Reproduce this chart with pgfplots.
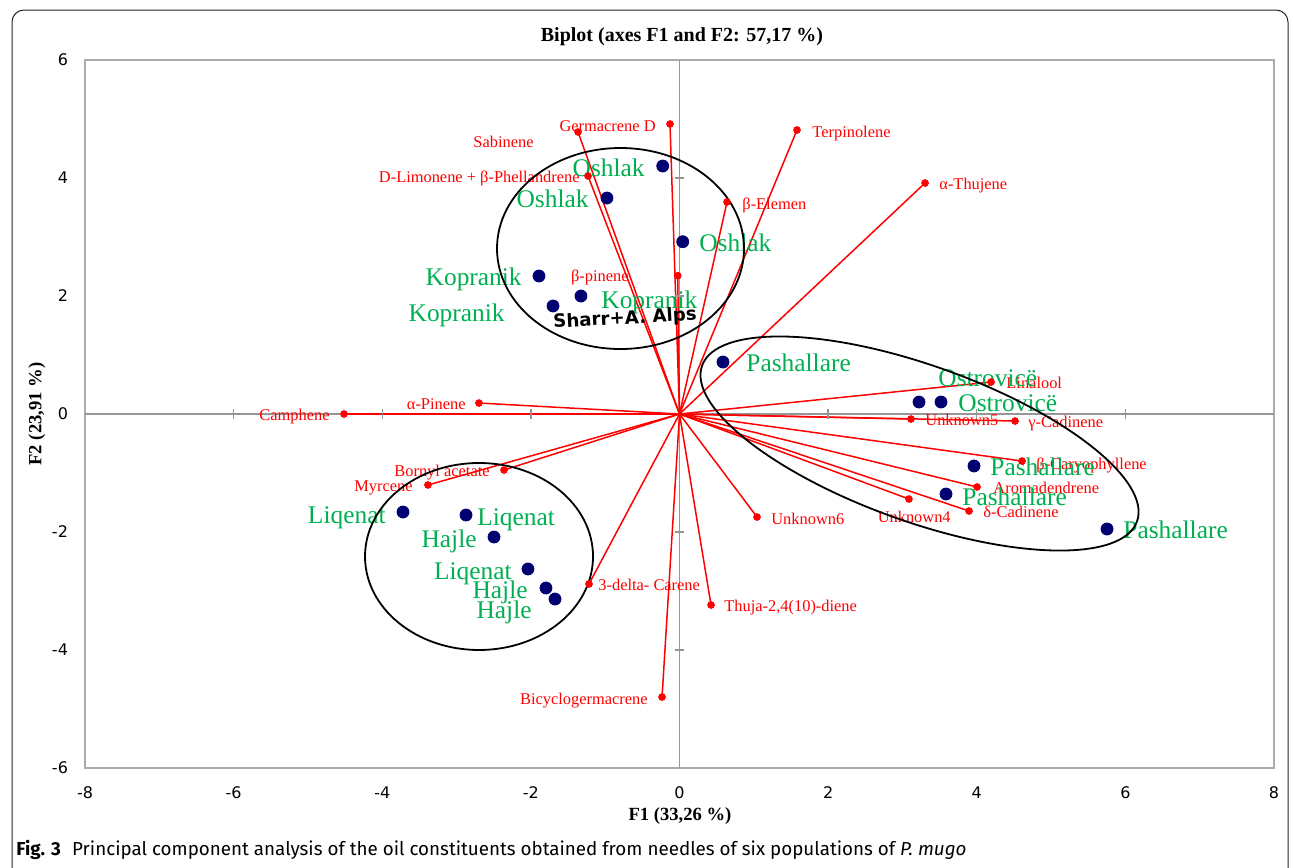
\documentclass[border=0pt]{standalone}
\usepackage{fontspec}
\setmainfont{Liberation Serif}
\newfontfamily\dejavu{DejaVu Sans}
\newfontfamily\fira{Fira Sans}
\usepackage{pgfplots}
\pgfplotsset{compat=1.18}
\usepackage{pgfplotstable}
\definecolor{obsgreen}{RGB}{0,176,80}
\definecolor{obsblue}{RGB}{0,0,112}
\definecolor{axgray}{RGB}{150,150,150}

\pgfplotstableread{
ox oy x y
0 0 -0.128 4.915
0 0 -1.366 4.780
0 0 -1.231 4.034
0 0 1.581 4.814
0 0 3.304 3.915
0 0 0.639 3.593
0 0 -0.024 2.344
0 0 4.192 0.542
0 0 3.115 -0.085
0 0 4.515 -0.119
0 0 4.609 -0.797
0 0 4.004 -1.237
0 0 3.087 -1.441
0 0 3.896 -1.644
0 0 1.043 -1.746
0 0 0.424 -3.237
0 0 -0.235 -4.797
0 0 -1.218 -2.881
0 0 -3.385 -1.203
0 0 -2.362 -0.949
0 0 -2.699 0.186
0 0 -4.515 0.000
}\vars

\pgfplotstableread{
x y
-0.226 4.203
-0.976 3.661
0.043 2.920
-1.891 2.339
-1.326 2.000
-1.702 1.831
0.585 0.881
3.223 0.203
3.519 0.203
3.963 -0.881
3.586 -1.356
5.753 -1.949
-3.721 -1.661
-2.873 -1.712
-2.496 -2.085
-2.039 -2.627
-1.797 -2.949
-1.675 -3.136
}\obs

\tikzset{
 vl/.style={font=\fontsize{8.2}{9}\selectfont, text=red, inner sep=0pt, yshift=-0.4pt},
 ol/.style={font=\fontsize{12.7}{14}\selectfont, text=obsgreen, inner sep=0pt, yshift=-2pt},
}

\begin{document}
\begin{tikzpicture}
% outer frame
\draw[black!85, line width=0.5pt, rounded corners=6pt] (6pt,-480pt) rectangle (644pt,-5pt);

\begin{axis}[
 at={(42.5pt,-384pt)}, anchor=south west,
 scale only axis, width=594.5pt, height=354pt,
 xmin=-8, xmax=8, ymin=-6, ymax=6,
 xtick={-8,-6,...,8}, ytick={-6,-4,...,6},
 major tick length=0pt,
 axis line style={draw=axgray!80, line width=0.6pt},
 ticklabel style={font=\fontsize{8}{9}\selectfont\dejavu},
 /pgf/number format/assume math mode=true,
 xticklabel style={yshift=-6pt},
 yticklabel style={xshift=-5pt},
 clip=false,
]
% zero lines
\addplot[axgray, line width=0.7pt] coordinates {(-8,0) (8,0)};
\addplot[axgray, line width=0.7pt] coordinates {(0,-6) (0,6)};
\addplot[only marks, mark=|, mark size=2.3pt, axgray, mark options={line width=0.7pt}] coordinates {(-6,0) (-4,0) (-2,0) (2,0) (4,0) (6,0)};
\addplot[only marks, mark=-, mark size=2.3pt, axgray, mark options={line width=0.7pt}] coordinates {(0,-4) (0,-2) (0,2) (0,4)};

% variable vectors
\addplot[red, line width=0.75pt, no marks, quiver={u=\thisrow{x}, v=\thisrow{y}}] table[x=ox, y=oy] {\vars};
\addplot[only marks, mark=*, mark size=1.7pt, red] table[x=x, y=y] {\vars};

% observations
\addplot[only marks, mark=*, mark size=3pt, obsblue] table[x=x, y=y] {\obs};

% variable labels
\node[vl, anchor=mid east] at (axis cs:-0.316,4.881) {Germacrene D};
\node[vl, anchor=mid east] at (axis cs:-1.958,4.610) {Sabinene};
\node[vl, anchor=mid east] at (axis cs:-1.339,4.017) {D-Limonene + β-Phellandrene};
\node[vl, anchor=mid west] at (axis cs:1.783,4.780) {Terpinolene};
\node[vl, anchor=mid west] at (axis cs:3.492,3.898) {α-Thujene};
\node[vl, anchor=mid west] at (axis cs:0.841,3.559) {β-Elemen};
\node[vl, anchor=mid east] at (axis cs:-0.680,2.339) {β-pinene};
\node[vl, anchor=mid west] at (axis cs:4.394,0.525) {Linalool};
\node[vl, anchor=mid west] at (axis cs:3.304,-0.102) {Unknown5};
\node[vl, anchor=mid west] at (axis cs:4.690,-0.136) {γ-Cadinene};
\node[vl, anchor=mid west] at (axis cs:4.797,-0.847) {β-Caryophyllene};
\node[vl, anchor=mid west] at (axis cs:4.219,-1.254) {Aromadendrene};
\node[vl, anchor=mid east] at (axis cs:3.654,-1.746) {Unknown4};
\node[vl, anchor=mid west] at (axis cs:4.084,-1.661) {δ-Cadinene};
\node[vl, anchor=mid west] at (axis cs:1.231,-1.780) {Unknown6};
\node[vl, anchor=mid west] at (axis cs:0.599,-3.254) {Thuja-2,4(10)-diene};
\node[vl, anchor=mid east] at (axis cs:-0.424,-4.831) {Bicyclogermacrene};
\node[vl, anchor=mid west] at (axis cs:-1.097,-2.898) {3-delta- Carene};
\node[vl, anchor=mid east] at (axis cs:-3.587,-1.220) {Myrcene};
\node[vl, anchor=mid east] at (axis cs:-2.550,-0.966) {Bornyl acetate};
\node[vl, anchor=mid east] at (axis cs:-2.873,0.169) {α-Pinene};
\node[vl, anchor=mid east] at (axis cs:-4.703,-0.017) {Camphene};

% observation labels
\node[ol, anchor=mid east] at (axis cs:-0.464,4.169) {Oshlak};
\node[ol, anchor=mid east] at (axis cs:-1.218,3.644) {Oshlak};
\node[ol, anchor=mid west] at (axis cs:0.262,2.898) {Oshlak};
\node[ol, anchor=mid east] at (axis cs:-2.119,2.322) {Kopranik};
\node[ol, anchor=mid west] at (axis cs:-1.056,1.932) {Kopranik};
\node[ol, anchor=mid east] at (axis cs:-2.348,1.712) {Kopranik};
\node[ol, anchor=mid west] at (axis cs:0.895,0.864) {Pashallare};
\node[ol, anchor=mid west] at (axis cs:3.479,0.610) {Ostrovicë};
\node[ol, anchor=mid west] at (axis cs:3.748,0.186) {Ostrovicë};
\node[ol, anchor=mid west] at (axis cs:4.178,-0.898) {Pashallare};
\node[ol, anchor=mid west] at (axis cs:3.802,-1.407) {Pashallare};
\node[ol, anchor=mid west] at (axis cs:5.968,-1.966) {Pashallare};
\node[ol, anchor=mid east] at (axis cs:-3.950,-1.712) {Liqenat};
\node[ol, anchor=mid west] at (axis cs:-2.725,-1.746) {Liqenat};
\node[ol, anchor=mid east] at (axis cs:-2.725,-2.119) {Hajle};
\node[ol, anchor=mid east] at (axis cs:-2.254,-2.661) {Liqenat};
\node[ol, anchor=mid east] at (axis cs:-2.039,-2.983) {Hajle};
\node[ol, anchor=mid east] at (axis cs:-1.985,-3.322) {Hajle};

% group ellipses
\draw[black, line width=0.9pt] (axis cs:-0.794,2.805) ellipse [x radius=61.75pt, y radius=50.25pt];
\draw[black, line width=0.9pt] (axis cs:-2.698,-2.415) ellipse [x radius=57pt, y radius=46.75pt];
\draw[black, line width=0.9pt, rotate around={-19.7:(axis cs:3.23,-0.5)}] (axis cs:3.23,-0.5) ellipse [x radius=115.5pt, y radius=39pt];

\node[font=\fontsize{9.1}{10}\selectfont\dejavu\bfseries, rotate=3, inner sep=0pt] at (axis cs:-0.733,1.610) {Sharr+A. Alps};
\end{axis}

\node[font=\fontsize{10}{12}\selectfont\bfseries] at (341pt,-18.5pt) {Biplot (axes F1 and F2: 57,17 \%)};
\node[font=\fontsize{9.3}{11}\selectfont\bfseries] at (340pt,-408pt) {F1 (33,26 \%)};
\node[font=\fontsize{9.3}{11}\selectfont\bfseries, rotate=90] at (18.5pt,-207pt) {F2 (23,91 \%)};
\node[font=\fontsize{9.4}{11}\selectfont\fira, anchor=mid west, inner sep=0pt] at (8pt,-425.5pt) {\textbf{Fig. 3}\hspace{0.6em}Principal component analysis of the oil constituents obtained from needles of six populations of \textit{P. mugo}};

\pgfresetboundingbox
\useasboundingbox (0pt,0pt) rectangle (646.5pt,-433.5pt);
\end{tikzpicture}
\end{document}
